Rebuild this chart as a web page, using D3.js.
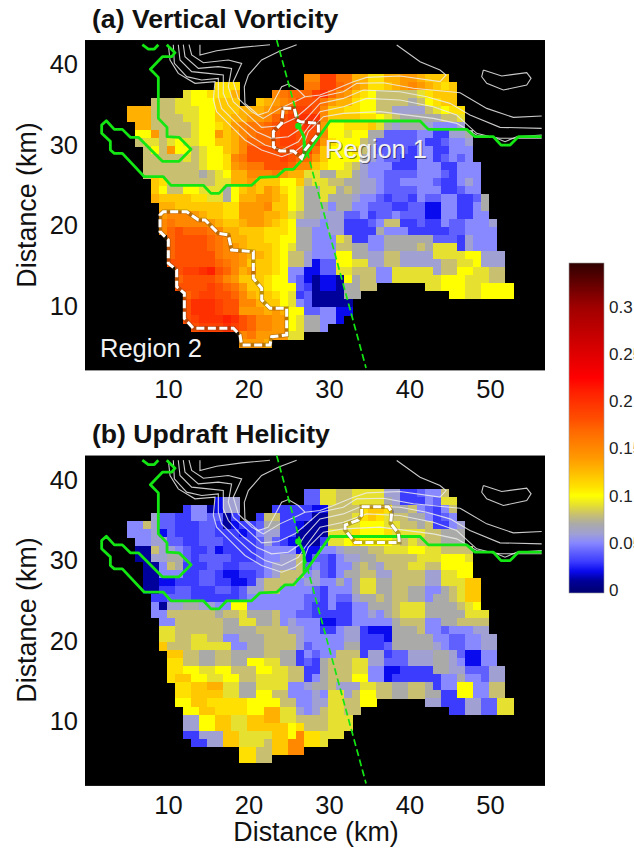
<!DOCTYPE html>
<html>
<head>
<meta charset="utf-8">
<script src="https://cdn.jsdelivr.net/npm/d3@7/dist/d3.min.js"></script>
<style>
html,body{margin:0;padding:0;background:#fff;overflow:hidden}
svg{display:block;font-family:"Liberation Sans",Arial,sans-serif}
</style>
</head>
<body>
<svg id="chart" width="634" height="849"></svg>
<script>
const _ = null;
// Every row: first col index, then cell values (x100). Rows run north to south, 1 km apart.
const vorticityRows = [
[22,15,15,19,19,16,16,13,13,11,11,13,13,14,14,13,12,12,12],
[11,11,11,11,_,_,_,_,_,_,_,_,16,16,19,19,17,16,14,13,11,11,12,13,14,15,14,13,12,11,12],
[7,9,10,10,11,11,11,13,_,_,_,_,15,16,17,17,17,19,20,17,15,14,12,11,10,8,8,8,8,8,9,11,12,12,12],
[3,8,8,8,9,9,10,10,10,12,12,12,_,_,12,13,14,15,16,18,18,18,16,14,13,13,11,10,10,8,8,8,8,7,8,10,11,12,12],
[0,13,13,13,8,8,8,9,9,9,10,10,12,12,12,13,13,13,14,15,16,18,19,19,18,15,12,12,11,11,10,10,8,8,6,6,6,6,8,9,10,11,11],
[0,13,13,13,8,8,8,8,9,9,10,10,12,12,13,13,14,14,15,17,18,19,20,20,20,15,12,12,12,12,11,11,10,9,8,7,7,7,7,7,8,8,9],
[1,13,13,8,8,8,8,8,9,10,10,11,12,14,15,16,16,17,18,19,19,19,20,19,14,10,10,11,11,11,12,9,7,6,7,7,7,6,5,5,5,6],
[1,10,10,14,8,8,8,8,9,10,10,14,12,13,15,16,17,17,18,19,19,18,18,18,15,10,10,9,10,10,7,7,4,4,4,4,5,5,3,3,6,6,7],
[1,8,9,9,8,9,10,9,9,10,10,12,12,13,15,17,17,17,18,19,19,18,18,18,14,11,10,10,10,8,7,4,4,4,4,4,5,3,3,4,5,5,6],
[2,8,10,8,14,10,10,8,9,10,10,12,13,15,18,18,18,18,18,19,19,19,16,12,10,10,10,11,8,6,4,4,4,4,3,5,5,3,3,5,5,5],
[2,8,8,8,8,8,9,8,9,10,10,11,15,16,18,18,18,18,19,18,17,17,14,12,10,10,10,10,7,6,5,4,4,3,3,5,5,3,4,5,4,5],
[2,8,8,8,8,8,8,8,9,10,10,11,14,15,16,16,18,18,18,17,15,15,12,11,10,10,9,8,6,5,5,5,3,3,3,5,5,5,3,3,5,5,5],
[2,8,8,8,8,8,8,8,7,8,9,10,13,13,15,15,15,16,14,13,13,9,9,7,7,9,9,7,6,5,5,4,4,4,4,5,5,5,4,3,5,5,5],
[3,12,11,8,8,8,8,8,8,9,9,13,13,14,12,12,12,10,10,12,8,9,9,8,8,7,7,6,6,5,4,4,5,5,5,5,4,3,3,5,6,5],
[3,12,10,8,8,10,10,9,9,9,7,10,12,13,12,14,13,11,10,9,7,7,9,9,7,8,7,6,6,5,4,4,4,4,5,5,5,3,3,4,5,5],
[3,13,12,12,12,12,11,11,9,9,7,10,13,13,14,14,13,12,10,9,7,7,9,7,7,7,6,5,5,4,3,4,4,3,5,4,4,5,5,3,3,4,7],
[4,13,13,12,12,12,12,12,12,11,11,14,14,14,15,12,12,10,9,7,7,7,5,7,7,5,5,4,4,4,3,3,4,4,2,2,5,5,3,3,5,7],
[4,14,15,15,15,14,13,12,12,11,11,14,14,14,13,13,12,9,8,7,7,6,6,6,4,4,5,3,4,4,5,4,4,4,2,2,5,5,3,3,5,5],
[4,15,16,15,15,15,15,14,13,12,12,13,14,14,13,12,11,10,6,6,6,5,6,6,3,3,3,4,5,8,8,3,3,4,3,3,5,4,4,5,5,5,6],
[4,15,17,18,17,17,17,16,15,13,13,12,12,12,11,11,11,10,7,7,5,5,6,6,3,3,3,3,7,5,5,5,3,3,3,3,3,4,4,5,5,5,5],
[5,17,18,18,18,18,17,16,15,13,13,12,12,11,11,10,10,7,7,5,5,5,9,8,3,3,5,5,7,7,7,7,7,7,4,4,4,3,6,5,5,5],
[5,17,18,18,18,18,17,16,15,14,13,12,12,12,11,10,9,7,7,5,5,5,8,8,7,7,5,5,7,7,7,7,8,7,9,9,9,3,6,5,5,5],
[5,17,18,18,18,18,18,16,15,15,14,13,13,12,11,10,8,8,6,5,5,5,10,10,7,7,6,6,8,8,6,6,6,6,9,9,9,9,10,10,6,6,6],
[5,18,18,18,18,18,18,17,16,15,14,12,12,12,11,10,8,8,6,2,4,4,10,10,9,9,6,6,8,8,6,6,6,6,6,8,8,9,9,10,6,6,6],
[6,18,19,19,20,21,18,17,15,13,14,12,12,11,10,5,5,2,2,4,4,9,9,8,8,8,5,5,9,9,9,9,9,6,8,8,10,10,9,9,8,8],
[6,17,18,18,18,18,17,15,14,12,12,12,11,10,10,5,4,2,1,2,2,1,10,7,8,8,5,5,9,9,9,9,9,9,10,10,10,9,9,9,8,8],
[6,18,18,18,18,19,18,17,16,14,12,12,11,10,10,10,4,3,1,2,2,1,7,7,8,8,_,_,_,_,_,_,9,9,10,10,10,9,9,10,10,10,10],
[7,17,18,19,19,18,18,17,15,13,12,12,11,10,9,3,4,1,1,1,1,7,7,_,_,_,_,_,_,_,_,_,_,_,10,10,9,9,10,10,10,10],
[7,18,20,20,20,19,18,18,15,15,13,12,12,10,9,5,4,1,1,1,1,1],
[7,18,20,20,20,19,18,18,14,14,14,13,14,13,10,10,4,4,5,5,2,2],
[7,18,19,20,20,20,21,20,18,17,15,15,14,14,10,9,7,7,5,5,2],
[8,18,19,19,19,20,19,18,17,15,15,14,14,10,9,7,7,5],
[14,15,16,14,14,14,14,9,9],
[14,14,14,14,13]
];
const helicityRows = [
[22,4,4,9,9,8,8,9,9,9,9,6,6,3,3,4,5,5,8],
[11,2,6,6,_,_,_,_,_,_,_,_,4,4,9,9,8,8,9,9,9,9,7,6,3,3,3,5,4,9,9],
[7,3,5,5,1,2,6,6,_,_,_,_,3,3,3,3,3,2,2,8,8,8,8,11,12,12,11,7,7,8,5,4,3,5,8],
[3,6,4,4,3,3,5,5,4,4,1,3,_,_,3,8,8,3,3,3,3,1,1,8,8,8,9,11,12,11,9,8,8,7,7,5,3,4,5],
[0,5,5,8,6,4,4,3,3,3,4,4,3,1,2,3,3,4,7,7,3,3,2,1,1,1,8,8,9,9,10,10,10,9,9,8,8,7,8,3,3,5,6],
[0,5,5,5,6,2,4,3,3,3,4,4,3,3,3,2,3,5,6,6,3,3,1,1,1,1,9,9,9,11,10,10,10,11,9,9,9,9,8,8,7,7,7],
[1,5,5,6,6,4,4,3,3,4,4,4,3,3,3,3,4,6,4,3,2,1,1,1,3,9,9,10,11,10,10,10,10,9,8,9,8,8,8,7,7,7],
[1,1,1,8,6,6,5,4,3,3,4,2,3,3,3,3,4,5,5,5,5,2,2,2,5,5,6,7,7,7,8,8,9,9,9,10,10,9,9,8,8,8,8],
[1,1,1,6,6,7,7,4,3,4,4,4,4,3,3,3,4,5,5,6,6,8,2,4,4,3,5,6,6,7,7,8,8,8,8,8,9,9,9,10,10,10,9],
[2,1,1,5,8,7,3,3,3,4,4,3,3,4,4,4,5,6,6,6,8,4,5,4,3,5,5,7,8,7,6,8,8,8,9,9,8,8,10,10,10,10],
[2,1,1,5,5,5,3,3,4,4,3,2,2,3,3,4,5,6,8,8,8,5,6,4,3,5,7,7,8,8,6,6,8,8,8,8,6,6,9,9,10,10],
[2,1,1,2,2,3,3,3,4,4,3,3,2,2,3,6,8,8,8,8,5,6,6,5,5,7,5,7,9,9,7,7,8,8,8,8,6,6,9,9,9,12,12],
[2,1,1,3,3,4,4,3,3,3,4,4,3,4,6,6,8,8,5,5,5,5,4,3,5,5,5,7,9,9,7,7,8,8,7,7,5,5,7,8,9,12,12],
[3,3,3,4,4,4,3,3,3,3,3,3,4,5,5,5,5,5,5,5,4,4,3,5,4,4,6,7,7,8,7,8,8,7,7,5,7,7,8,9,12,12],
[3,5,1,6,6,7,7,6,6,5,5,10,10,5,5,5,5,5,5,5,4,3,3,5,3,3,5,5,7,7,7,8,9,9,9,7,7,7,7,8,9,10],
[3,5,5,8,8,8,8,8,8,7,8,8,9,7,7,7,8,5,5,4,4,3,3,3,3,3,5,5,6,5,7,8,9,9,9,7,7,7,7,7,9,9,9],
[4,5,5,8,8,8,8,8,8,7,7,9,9,7,7,8,5,6,5,5,5,2,2,3,3,5,5,5,5,5,7,8,8,8,5,5,7,7,8,8,8,8],
[4,9,9,8,8,8,8,8,8,7,7,7,7,8,8,8,8,6,6,5,5,3,3,5,6,6,3,2,2,2,7,7,7,8,5,5,4,5,5,5,6,6],
[4,9,9,8,8,9,9,8,8,5,5,7,7,7,8,8,8,8,6,5,5,5,5,5,6,6,3,3,3,2,7,7,7,7,7,5,5,4,4,5,5,6,6],
[4,12,8,8,8,9,9,9,9,9,5,5,7,7,8,8,8,8,6,4,5,5,5,5,7,7,3,3,3,4,7,7,7,7,7,6,5,4,4,5,5,6,6],
[5,12,12,8,8,7,7,8,8,7,7,7,7,8,8,7,7,3,5,4,5,5,8,8,8,3,6,6,3,4,4,6,6,6,7,7,6,4,2,2,5,5],
[5,11,11,8,8,7,7,8,8,7,7,10,10,9,9,7,7,3,4,3,7,8,8,8,9,9,6,6,4,4,4,6,6,6,7,7,6,5,2,2,5,5],
[5,11,11,10,10,9,9,10,10,8,8,8,10,10,9,9,8,8,3,3,7,8,8,8,9,9,5,5,2,2,3,3,3,3,7,7,6,6,4,4,4,6,6],
[5,11,12,12,10,10,9,9,10,10,8,8,9,9,9,9,8,8,3,5,7,8,8,8,10,10,5,5,2,3,3,3,3,3,3,5,5,7,5,5,4,6,6],
[6,11,11,12,12,13,13,9,9,7,7,9,9,9,9,5,5,6,7,7,8,6,6,6,9,9,8,8,7,7,8,8,7,3,5,5,10,10,5,5,8,8],
[6,11,11,12,12,12,12,9,9,7,7,10,10,8,8,5,5,5,6,5,9,9,6,8,10,10,8,8,7,7,8,8,7,7,3,3,10,10,5,5,8,8],
[6,10,10,12,12,11,11,11,11,11,10,10,10,10,8,8,5,5,6,6,9,9,8,8,10,10,_,_,_,_,_,_,6,6,3,3,3,6,6,4,4,9,9],
[7,10,10,12,12,11,11,11,11,10,10,13,13,9,9,6,5,6,8,9,9,8,8,_,_,_,_,_,_,_,_,_,_,_,3,3,6,6,4,4,9,9],
[7,6,6,10,10,12,12,9,9,12,12,13,13,9,9,8,8,8,8,9,9,9],
[7,6,6,10,10,12,12,9,9,12,12,12,12,12,10,11,8,8,8,9,9,9],
[7,3,3,6,6,6,12,12,9,9,9,9,12,12,10,15,11,11,9,9,9],
[8,3,3,6,6,12,12,9,9,9,8,12,12,15,15,11,11,9],
[14,11,11,8,8,12,12,15,15],
[14,11,11,8,8]
];

const colorValues = [0,1,2,3,4,5,6,7,8,9,10,11,12,13,14,15,16,17,18,19,20,21,22.5,30,35];
const colorHexes = ["#000078","#00009a","#0a0aee","#3c3cff","#6060ff","#8888ff","#a0a0d2","#aaaaa8","#c8c070","#e6e030","#ffff00","#ffe000","#ffc800","#ffb000","#ff9900","#ff8800","#ff7700","#ff6600","#ff5000","#ff4000","#ff3000","#ff2000","#ff0000","#a00000","#300000"];

const xTicks = [10,20,30,40,50];
const yTicks = [10,20,30,40];
const barTicks = [0,0.05,0.1,0.15,0.2,0.25,0.3];
const barTickLabels = ["0","0.05","0.1","0.15","0.2","0.25","0.3"];

// Outlines, all in km: [x, y]
const greenOutline = [[9.84,42.46],[10.87,41.47],[10.46,40.97],[9.3,40.97],[7.81,39.4],[8.8,38.4],[8.8,33.31],[9.88,32.19],[9.88,31.03],[11.37,30.95],[12.86,29.46],[11.37,27.97],[9.3,27.97],[6.32,30.95],[5.32,30.95],[4.33,31.94],[3.33,31.94],[2.34,33.02],[1.76,32.48],[1.76,31.45],[2.84,30.45],[2.84,29.38],[3.33,28.96],[4.33,28.96],[7.06,26.06],[9.42,26.06],[10.37,24.99],[14.39,24.99],[15.34,23.99],[16.34,23.99],[17.29,24.99],[20.39,24.99],[21.43,25.98],[23.5,26.06],[24.53,26.97],[25.57,26.97],[27.02,28.55],[30.13,32.98],[41.31,32.98],[42.34,31.94],[47.1,31.94],[48.14,31.03],[50.42,31.03],[51.37,29.99],[52.49,29.99],[53.52,31.03],[56.42,31.03]];
const greenTop = [[6.81,42.46],[7.56,41.92],[8.3,41.92],[8.8,42.46]];
const greenBranch = [[26.9,28.55],[26.9,31.03],[26.19,32.36]];
const greenDot = [26.19,32.36];
const stormTrack = [[23.5,43.04],[34.6,2.3]];

const contours = [
[[10.04,42.46],[10.25,40.56],[11.28,38.9],[13.35,37.66],[15.84,37.87],[15.63,35.59],[16.04,34.14],[17.49,32.69],[19.56,30.62],[21.63,29.38],[24.12,28.55],[25.77,29.17],[26.81,30],[27.44,31.66],[29.3,33.52],[31.78,33.93],[36.34,34.14],[42.96,33.31],[45.86,32.69],[48.34,31.24],[51.24,30.83],[56.42,30.83]],
[[10.66,42.46],[10.79,40.14],[12.32,38.49],[14.18,38.07],[16.25,38.28],[16.25,36],[16.66,34.55],[18.32,32.9],[20.39,31.03],[22.05,30],[24.12,29.38],[26.19,30.41],[27.01,31.65],[28.88,34.14],[31.78,34.76],[34.68,35.79],[38.82,35.59],[42.96,34.76],[45.86,33.72],[48.34,31.45],[50.83,30.83],[51.86,30.41],[53.31,31.03],[56.42,31.24]],
[[11.28,42.46],[11.49,40.56],[12.94,39.11],[15.01,38.9],[16.87,38.69],[16.87,36.42],[17.49,34.97],[19.15,33.1],[21.01,31.65],[22.87,30.83],[24.94,31.03],[26.19,31.86],[27.01,33.1],[28.88,35.17],[31.78,35.79],[34.27,36.83],[38.82,36.62],[42.13,36],[45.03,35.17],[47.51,33.72],[51.24,32.19],[56.42,32.07]],
[[11.9,42.46],[12.11,40.97],[13.77,39.52],[16.25,39.73],[17.9,39.52],[17.49,37.24],[18.11,35.38],[19.98,33.72],[21.63,32.19],[23.7,32.36],[25.77,33.31],[27.01,34.35],[28.88,36],[31.78,36.62],[33.44,37.66],[36.75,37.74],[40.48,37.04],[46.28,36.5],[49.59,34.55],[52.9,33.43],[56.42,33.6]],
[[12.61,42.46],[12.94,41.18],[14.39,40.22],[17.49,40.56],[19.15,40.14],[18.11,37.87],[18.73,35.79],[20.39,34.14],[21.84,33.31],[23.91,34.55],[26.19,35.59],[27.01,36]],
[[13.97,42.46],[13.97,41.18],[16.04,41.71],[19.15,42.13],[22.67,42.46]],
[[25.98,42.46],[23.7,41.59],[21.63,40.56],[19.98,38.69],[19.48,37.24],[19.56,35.17],[21.22,33.72],[22.46,34.14],[24.12,37.24],[24.94,37.57],[26.19,36.83],[27.01,36],[28.88,36.21],[30.54,36.83],[33.03,37.87],[34.68,38.4],[38.82,38.57],[43.79,37.87],[44.54,38.69],[43.79,39.31],[41.31,40.35],[38.41,42.42]],
[[49.17,39.31],[51.45,38.57],[54.56,38.98],[55.1,38.28],[54.56,37.45],[51.66,36.83],[49.59,37.66],[48.97,38.48],[49.17,39.31]]
];

const region1 = [[24.32,34.55],[25.69,34.55],[26.02,33.1],[26.4,32.9],[28.68,32.69],[28.68,31.45],[27.02,29.38],[26.6,28.34],[26.19,28.75],[25.57,29.25],[23.91,29.25],[23.09,29.79],[23.09,31.65],[24.12,32.69]];
const region2 = [[9.01,21.31],[9.42,21.72],[12.32,21.72],[13.77,20.69],[14.6,20.69],[16.25,19.03],[17.5,18.82],[17.9,16.96],[20.6,16.75],[20.6,13.44],[21.64,12.2],[21.64,10.75],[22.67,9.71],[24.74,9.71],[24.74,6.4],[22.88,6.19],[22.67,5.16],[19.15,5.16],[18.94,6.4],[18.12,7.23],[13.15,7.23],[12.03,8.47],[12.03,11.58],[11.08,12.4],[11.08,14.47],[10.04,15.3],[10.04,18.2],[9.01,19.24]];
const regionB = [[34.06,36.68],[37.37,36.68],[37.79,36.06],[37.66,34.61],[38.62,33.37],[38.74,32.25],[33.23,32.25],[32,33.78],[32,34.4],[33.65,35.03],[34.06,35.65]];

const svg = d3.select("#chart");
const color = d3.scaleLinear().domain(colorValues).range(colorHexes).clamp(true);
const xDomain = [-0.31, 56.83];
const x = d3.scaleLinear().domain(xDomain).range([85, 545]);
const gridLeft = 4.87, gridTop = 38.86;

function panel(cfg) {
  const y = d3.scaleLinear().domain([2, 43.04]).range([cfg.bottom, cfg.bottom - 41.04 * 8.05]);
  const g = svg.append("g");
  g.append("rect").attr("x", x(xDomain[0])).attr("y", y(43.04))
    .attr("width", x(xDomain[1]) - x(xDomain[0])).attr("height", y(2) - y(43.04)).attr("fill", "#000");

  const cells = [];
  cfg.rows.forEach((row, r) => {
    row.slice(1).forEach((v, i) => {
      if (v !== null) cells.push({ col: row[0] + i, r, v });
    });
  });
  g.append("g").attr("shape-rendering", "crispEdges").selectAll("rect").data(cells).join("rect")
    .attr("x", d => x(gridLeft + d.col))
    .attr("y", d => y(gridTop - d.r))
    .attr("width", x(1) - x(0) + 0.4)
    .attr("height", y(0) - y(1) + 0.4)
    .attr("fill", d => color(d.v));

  const line = d3.line().x(d => x(d[0])).y(d => y(d[1]));
  g.append("g").selectAll("path").data(contours).join("path")
    .attr("d", line).attr("fill", "none").attr("stroke", "#ececec").attr("stroke-opacity", 0.85).attr("stroke-width", 1.1);

  [greenOutline, greenTop, greenBranch].forEach(l => {
    g.append("path").attr("d", line(l)).attr("fill", "none").attr("stroke", "#14e614")
      .attr("stroke-width", 2.8).attr("stroke-linejoin", "round");
  });
  g.append("circle").attr("cx", x(greenDot[0])).attr("cy", y(greenDot[1])).attr("r", 3.2).attr("fill", "#14e614");
  g.append("path").attr("d", line(stormTrack)).attr("fill", "none").attr("stroke", "#14e614")
    .attr("stroke-width", 1.7).attr("stroke-dasharray", "7,3.5");

  const closed = d3.line().x(d => x(d[0])).y(d => y(d[1])).curve(d3.curveLinearClosed);
  cfg.regions.forEach(rg => {
    g.append("path").attr("d", closed(rg)).attr("fill", "none").attr("stroke", "#5a3a10")
      .attr("stroke-opacity", 0.4).attr("stroke-width", 4.4);
    g.append("path").attr("d", closed(rg)).attr("fill", "none").attr("stroke", "#fff")
      .attr("stroke-width", 3).attr("stroke-dasharray", "8,3.5");
  });

  const xAxis = d3.axisBottom(x).tickValues(xTicks).tickSize(0).tickPadding(10);
  const xg = g.append("g").attr("transform", `translate(0,${y(2)})`).call(xAxis);
  const yAxis = d3.axisLeft(y).tickValues(yTicks).tickSize(0).tickPadding(7);
  const yg = g.append("g").attr("transform", "translate(85,0)").call(yAxis);
  [xg, yg].forEach(a => {
    a.select(".domain").remove();
    a.selectAll("text").attr("font-size", 25.5).attr("font-family", "Liberation Sans").attr("fill", "#111");
  });

  g.append("text").attr("x", 92).attr("y", cfg.titleY).attr("font-size", 26.6).attr("font-weight", "bold")
    .attr("fill", "#111").text(cfg.title);
  g.append("text").attr("transform", `translate(36,${cfg.labelY}) rotate(-90)`).attr("text-anchor", "middle")
    .attr("font-size", 26.8).attr("fill", "#111").text("Distance (km)");
  return { y, g };
}

const pa = panel({ rows: vorticityRows, bottom: 370.4, title: "(a) Vertical Vorticity", titleY: 28, labelY: 205, regions: [region1, region2] });
const pb = panel({ rows: helicityRows, bottom: 785.9, title: "(b) Updraft Helicity", titleY: 443, labelY: 620, regions: [regionB] });

[["Region 1", 29.5, 28.4], ["Region 2", 1.55, 3.66]].forEach(t => {
  pa.g.append("text").attr("x", x(t[1]) + 1).attr("y", pa.y(t[2]) + 1).attr("font-size", 25.5).attr("fill", "#000").attr("opacity", 0.45).text(t[0]);
  pa.g.append("text").attr("x", x(t[1])).attr("y", pa.y(t[2])).attr("font-size", 25.5).attr("fill", "#f2f2f2").text(t[0]);
});

svg.append("text").attr("x", 316).attr("y", 841).attr("text-anchor", "middle").attr("font-size", 26.8)
  .attr("fill", "#111").text("Distance (km)");

// Colour bar
const barScale = d3.scaleLinear().domain([0, 0.3]).range([590, 307]);
const grad = svg.append("defs").append("linearGradient").attr("id", "barGrad")
  .attr("x1", 0).attr("x2", 0).attr("y1", 1).attr("y2", 0);
const barMin = barScale.invert(593), barMax = barScale.invert(263);
colorValues.forEach((v, i) => {
  grad.append("stop").attr("offset", Math.max(0, (v / 100 - barMin) / (barMax - barMin))).attr("stop-color", colorHexes[i]);
});
svg.append("rect").attr("x", 569).attr("y", 263).attr("width", 35).attr("height", 330)
  .attr("fill", "url(#barGrad)").attr("stroke", "#999").attr("stroke-width", 0.6);
const barAxis = d3.axisRight(barScale).tickValues(barTicks).tickFormat((d, i) => barTickLabels[i]).tickSize(0).tickPadding(5);
const barG = svg.append("g").attr("transform", "translate(604,0)").call(barAxis);
barG.select(".domain").remove();
barG.selectAll("text").attr("font-size", 17).attr("font-family", "Liberation Sans").attr("fill", "#222");
</script>
</body>
</html>
